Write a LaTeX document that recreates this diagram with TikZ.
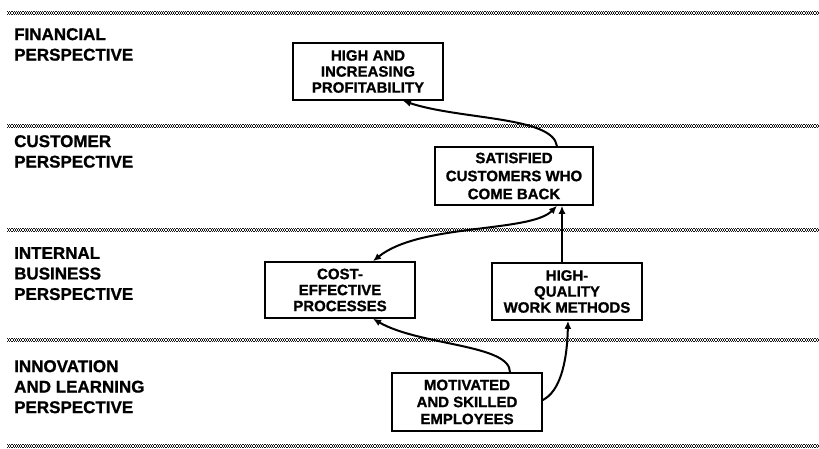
\documentclass[tikz,border=0pt]{standalone}
\usepackage{fontspec}
\setmainfont{Liberation Sans}[BoldFeatures={FakeBold=1}]
\usetikzlibrary{arrows.meta,calc}
\begin{document}
\begin{tikzpicture}[x=1pt,y=-1pt,
  persp/.style={anchor=north west, inner sep=0pt, align=left, font=\fontsize{17}{20.5}\selectfont\bfseries},
  box/.style={draw, line width=1.6pt, inner sep=0pt, align=center, font=\fontsize{15}{16}\selectfont\bfseries},
  sepline/.style={line width=1.1pt, dash pattern=on 1.1pt off 1.1pt, black!90},
  conn/.style={line width=2pt, -{Latex[length=8pt,width=7pt]}},
  dconn/.style={line width=2pt, {Latex[length=8pt,width=7pt]}-{Latex[length=8pt,width=7pt]}}]
\useasboundingbox (0,0) rectangle (819,449);
% separators
\foreach \yy in {13,126,230,340,446}{
  \draw[sepline] (7,\yy-1.1) -- (819,\yy-1.1);
  \draw[sepline, dash phase=1.1pt] (7,\yy) -- (819,\yy);
  \draw[sepline] (7,\yy+1.1) -- (819,\yy+1.1);
}
% perspective labels
\node[persp] (fin) at (14,28) {FINANCIAL\\PERSPECTIVE};
\node[persp] (cus) at (14,135) {CUSTOMER\\PERSPECTIVE};
\node[persp] (int) at (14,247) {INTERNAL\\BUSINESS\\PERSPECTIVE};
\node[persp] (inn) at (14,360) {INNOVATION\\AND LEARNING\\PERSPECTIVE};
% boxes
\node[box, minimum width=150pt, minimum height=57pt] (prof) at (368,71.5) {HIGH AND\\INCREASING\\PROFITABILITY};
\node[box, minimum width=158pt, minimum height=58pt, font=\fontsize{15}{18}\selectfont\bfseries] (sat) at (514,176) {SATISFIED\\CUSTOMERS WHO\\COME BACK};
\node[box, minimum width=150pt, minimum height=56pt] (cost) at (340,290) {COST-\\EFFECTIVE\\PROCESSES};
\node[box, minimum width=150pt, minimum height=57pt] (hq) at (567,291.5) {HIGH-\\QUALITY\\WORK METHODS};
\node[box, minimum width=150pt, minimum height=58pt, font=\fontsize{15}{17}\selectfont\bfseries] (mot) at (467,402) {MOTIVATED\\AND SKILLED\\EMPLOYEES};
% connectors
\draw[conn] ([xshift=43pt]sat.north) .. controls +(-4,-30) and +(57,19) .. ([xshift=35pt]prof.south);
\draw[dconn] ([xshift=43pt]sat.south) .. controls +(-27,27) and +(47,-38) .. ([xshift=33pt]cost.north);
\draw[conn] ([xshift=-5pt]hq.north) -- ([xshift=-5pt]hq.north |- sat.south);
\draw[conn] ([xshift=43pt]mot.north) .. controls +(0,-28) and +(47,27) .. ([xshift=33pt]cost.south);
\draw[conn] ([yshift=2pt]mot.east) .. controls +(16,-8) and +(-1,45) .. ([xshift=1pt]hq.south);
\end{tikzpicture}
\end{document}
